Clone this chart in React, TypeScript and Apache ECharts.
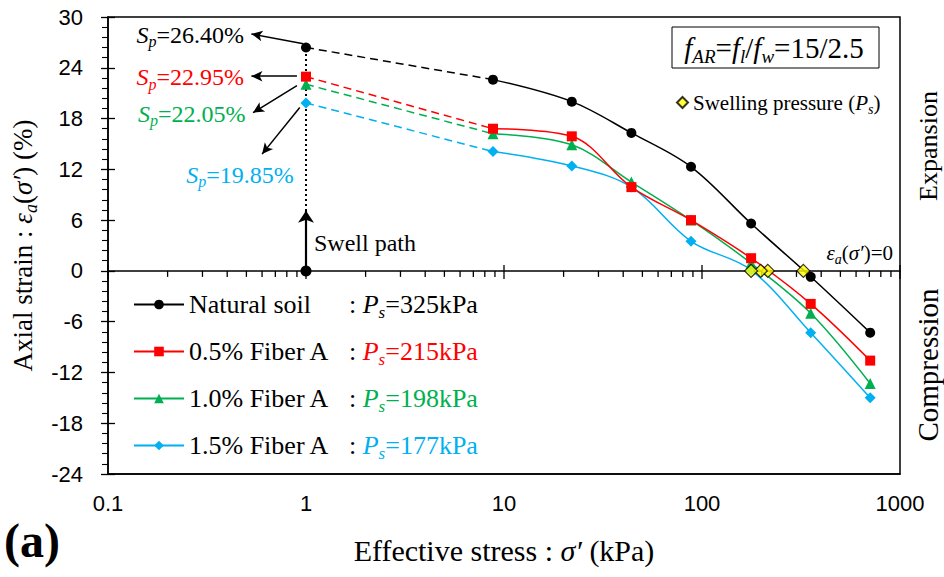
import React, { useEffect, useRef } from 'react';
import * as echarts from 'echarts';

// ---- data ----
const stressLoads = [8.8, 22, 44, 88, 177, 354, 707]; // kPa
const naturalSoil = [22.6, 20.0, 16.3, 12.3, 5.6, -0.7, -7.3];
const fiber05 = [16.8, 15.9, 9.9, 6.0, 1.5, -3.9, -10.6];
const fiber10 = [16.2, 14.9, 10.5, 6.0, 0.9, -5.0, -13.3];
const fiber15 = [14.1, 12.4, 9.9, 3.5, 0.1, -7.3, -15.0];
const seatingStress = 1; // kPa
const swellPotential = [26.4, 22.95, 22.05, 19.85]; // Sp (%)
const swellingPressure = [325, 215, 198, 177]; // Ps (kPa)
const seriesNames = ['Natural soil', '0.5% Fiber A', '1.0% Fiber A', '1.5% Fiber A'];
const seriesColors = ['#000000', '#FF0000', '#00B050', '#00B0F0'];
const seriesSymbols = ['circle', 'rect', 'triangle', 'diamond'];
const seriesSymbolSizes = [10, 10, 11, 11];
const strainSeries = [naturalSoil, fiber05, fiber10, fiber15];
const spArrowFrom = [[0.97, 26.85], [0.9, 23.0], [0.9, 21.9], [0.93, 19.3]];
const spArrowTo = [[0.53, 28.0], [0.53, 23.0], [0.54, 18.7], [0.6, 13.8]];
const swellPathTop = 7.1;
const xMajorTicks = [0.1, 1, 10, 100, 1000];
const xMinorMantissas = [2, 3, 4, 5, 6, 7, 8, 9];

const SERIF = "'Liberation Serif', 'Times New Roman', serif";
const SANS = "'Liberation Sans Narrow', 'Arial Narrow', 'Liberation Sans', Arial, sans-serif";

function makeRich(size: number, extra: Record<string, any> = {}) {
  const lh = Math.round(size * 1.15);
  const pad = Math.round(size * 0.6);
  const sub = Math.round(size * 0.65);
  return {
    tx: { fontFamily: SERIF, fontSize: size, lineHeight: lh, fontStyle: 'normal', ...extra },
    it: { fontFamily: SERIF, fontSize: size, lineHeight: lh, fontStyle: 'italic', ...extra },
    sb: { fontFamily: SERIF, fontSize: sub, lineHeight: lh - pad, padding: [pad, 0, 0, 0], fontStyle: 'italic', ...extra },
  };
}

export default function App() {
  const ref = useRef<HTMLDivElement>(null);
  useEffect(() => {
    if (!ref.current) return;
    const chart = echarts.init(ref.current, null, { renderer: 'svg' });

    const tickData: number[][] = [];
    xMajorTicks.forEach((v) => tickData.push([v, 0, 1]));
    for (let k = 0; k < xMajorTicks.length - 1; k++) {
      xMinorMantissas.forEach((m) => tickData.push([+(m * xMajorTicks[k]).toPrecision(3), 0, 0]));
    }

    const keys = ['k', 'r', 'g', 'b'];
    const legendRich: Record<string, any> = {
      nm: { fontFamily: SERIF, fontSize: 26, lineHeight: 30, width: 160, color: '#000' },
      cl: { fontFamily: SERIF, fontSize: 26, lineHeight: 30, color: '#000' },
    };
    keys.forEach((k, i) => {
      const r = makeRich(26, { color: seriesColors[i] });
      legendRich['P' + k] = r.it;
      legendRich['s' + k] = r.sb;
      legendRich['v' + k] = r.tx;
    });

    const series: any[] = [];
    strainSeries.forEach((arr, i) => {
      series.push({
        name: seriesNames[i],
        type: 'line',
        data: stressLoads.map((x, j) => [x, arr[j]]),
        smooth: 0.35,
        symbol: seriesSymbols[i],
        symbolSize: seriesSymbolSizes[i],
        showAllSymbol: true,
        color: seriesColors[i],
        itemStyle: { color: seriesColors[i] },
        lineStyle: { color: seriesColors[i], width: 1.5 },
        z: 7 - i,
      });
      series.push({
        name: seriesNames[i] + ' swell',
        type: 'line',
        data: [
          { value: [seatingStress, swellPotential[i]], symbol: seriesSymbols[i], symbolSize: seriesSymbolSizes[i] },
          { value: [stressLoads[0], arr[0]], symbol: 'none' },
        ],
        color: seriesColors[i],
        itemStyle: { color: seriesColors[i] },
        lineStyle: { color: seriesColors[i], width: 1.5, type: [8, 5] },
        z: 7 - i,
      });
    });

    series.push({
      name: 'swell path',
      type: 'line',
      data: [[seatingStress, 0], [seatingStress, swellPotential[0]]],
      symbol: 'none',
      lineStyle: { color: '#000', width: 2, type: [2, 3] },
      z: 2,
      markLine: {
        silent: true,
        symbol: ['none', 'arrow'],
        symbolSize: [8, 11],
        label: { show: false },
        lineStyle: { color: '#000', width: 1.5, type: 'solid' },
        data: [
          ...spArrowFrom.map((f, i) => [{ coord: f }, { coord: spArrowTo[i] }]),
          [
            { coord: [seatingStress, 0], symbol: 'circle', symbolSize: 11, lineStyle: { width: 2.2, color: '#000', type: 'solid' } },
            { coord: [seatingStress, swellPathTop], symbol: 'arrow', symbolSize: 12, lineStyle: { width: 2.2, color: '#000', type: 'solid' } },
          ],
        ],
      },
      markPoint: {
        silent: true,
        symbol: 'circle',
        symbolSize: 1,
        itemStyle: { color: 'rgba(0,0,0,0)' },
        data: swellPotential.map((v, i) => ({
          coord: spArrowTo[i],
          label: {
            show: true,
            color: seriesColors[i],
            fontFamily: SERIF,
            fontSize: 24,
            position: i === 3 ? 'bottom' : 'left',
            distance: i === 3 ? 4 : 7,
            offset: i === 3 ? [-22, 2] : [0, 1],
            formatter: `{it|S}{sb|p}{tx|=${v.toFixed(2)}%}`,
            rich: makeRich(24, { color: seriesColors[i] }),
          },
        })),
      },
    });

    series.push({
      name: 'Swelling pressure',
      type: 'scatter',
      data: swellingPressure.map((p) => [p, 0]),
      symbol: 'diamond',
      symbolSize: 13,
      itemStyle: { color: '#FFFF00', borderColor: '#000', borderWidth: 1.2 },
      z: 20,
    });

    series.push({
      name: 'x ticks',
      type: 'custom',
      data: tickData,
      z: 1,
      silent: true,
      renderItem: (params: any, api: any) => {
        const p = api.coord([api.value(0), 0]);
        const major = api.value(2) === 1;
        return {
          type: 'line',
          shape: { x1: p[0], y1: major ? p[1] - 6 : p[1], x2: p[0], y2: p[1] + (major ? 8 : 6) },
          style: { stroke: '#000', lineWidth: 1.3 },
        };
      },
    });

    chart.setOption({
      animation: false,
      backgroundColor: '#fff',
      grid: { left: 108, right: 44, top: 17, bottom: 103, show: true, borderColor: '#000', borderWidth: 1.5, outerBoundsMode: 'none' },
      xAxis: [
        {
          type: 'log', logBase: 10, min: 0.1, max: 1000, position: 'bottom',
          axisLine: { show: true, onZero: false, lineStyle: { color: '#000', width: 1.5 } },
          axisTick: { show: false },
          splitLine: { show: false },
          axisLabel: { color: '#000', fontFamily: SANS, fontSize: 22, margin: 18, formatter: (v: number) => String(v) },
          name: '{tx|Effective stress : }{it|σ′}{tx| (kPa)}',
          nameLocation: 'middle', nameGap: 59,
          nameTextStyle: { color: '#000', fontFamily: SERIF, fontSize: 30, rich: makeRich(30) },
        },
        {
          type: 'log', logBase: 10, min: 0.1, max: 1000, position: 'bottom',
          axisLine: { show: true, onZero: true, onZeroAxisIndex: 0, lineStyle: { color: '#000', width: 1.5 } },
          axisTick: { show: false }, axisLabel: { show: false }, splitLine: { show: false },
        },
      ],
      yAxis: [
        {
          type: 'value', min: -24, max: 30, interval: 6, position: 'left',
          axisLine: { show: true, lineStyle: { color: '#000', width: 1.5 } },
          axisTick: { show: true, length: 7, lineStyle: { color: '#000', width: 1.3 } },
          minorTick: { show: true, splitNumber: 5, length: 6, lineStyle: { color: '#000', width: 1.1 } },
          splitLine: { show: false },
          axisLabel: { color: '#000', fontFamily: SANS, fontSize: 22, margin: 25 },
          name: '{tx|Axial strain : }{it|ε}{sb|a}{tx|(}{it|σ′}{tx|) (%)}',
          nameLocation: 'middle', nameGap: 66,
          nameTextStyle: { color: '#000', fontFamily: SERIF, fontSize: 27, rich: makeRich(27) },
        },
        {
          type: 'value', min: -24, max: 30, interval: 6, position: 'left',
          axisLine: { show: false },
          axisTick: { show: true, inside: true, length: 7, lineStyle: { color: '#000', width: 1.3 } },
          axisLabel: { show: false }, splitLine: { show: false },
        },
      ],
      legend: [
        {
          data: seriesNames,
          orient: 'vertical', left: 133, top: 288, padding: 0, itemGap: 14,
          itemWidth: 50, itemHeight: 12, selectedMode: false,
          formatter: (name: string) => {
            const i = seriesNames.indexOf(name);
            const k = keys[i];
            return `{nm|${name}}{cl|: }{P${k}|P}{s${k}|s}{v${k}|=${swellingPressure[i]}kPa}`;
          },
          textStyle: { color: '#000', fontFamily: SERIF, fontSize: 26, rich: legendRich },
        },
        {
          data: ['Swelling pressure'],
          left: 676, top: 89, padding: 0, itemWidth: 11, itemHeight: 11, selectedMode: false,
          formatter: () => '{tx|Swelling pressure (}{it|P}{sb|s}{tx|)}',
          textStyle: { color: '#000', fontFamily: SERIF, fontSize: 21, rich: makeRich(21) },
        },
      ],
      graphic: [
        { type: 'rect', shape: { x: 672, y: 27, width: 207, height: 41 }, style: { fill: '#fff', stroke: '#000', lineWidth: 1 }, z: 50 },
        {
          type: 'text', x: 774, y: 47.5, z: 51,
          style: { text: '{it|f}{sb|AR}{tx|=}{it|f}{sb|l}{tx|/}{it|f}{sb|w}{tx|=15/2.5}', rich: makeRich(29), fontFamily: SERIF, fontSize: 29, fill: '#000', align: 'center', verticalAlign: 'middle' },
        },
        {
          type: 'text', x: 314, y: 243, z: 50,
          style: { text: 'Swell path', fontFamily: SERIF, fontSize: 24, fill: '#000', align: 'left', verticalAlign: 'middle' },
        },
        {
          type: 'text', x: 893, y: 253, z: 50,
          style: { text: '{it|ε}{sb|a}{tx|(}{it|σ′}{tx|)=0}', rich: makeRich(21), fontFamily: SERIF, fontSize: 21, fill: '#000', align: 'right', verticalAlign: 'middle' },
        },
        {
          type: 'text', x: 928, y: 146, rotation: Math.PI / 2, z: 50,
          style: { text: 'Expansion', fontFamily: SERIF, fontSize: 26, fill: '#000', align: 'center', verticalAlign: 'middle' },
        },
        {
          type: 'text', x: 928, y: 365, rotation: Math.PI / 2, z: 50,
          style: { text: 'Compression', fontFamily: SERIF, fontSize: 29, fill: '#000', align: 'center', verticalAlign: 'middle' },
        },
        {
          type: 'text', x: 4, y: 540, z: 50,
          style: { text: '(a)', fontFamily: SERIF, fontSize: 48, fontWeight: 'bold', fill: '#000', align: 'left', verticalAlign: 'middle' },
        },
      ],
      series,
    });
    return () => chart.dispose();
  }, []);
  return <div ref={ref} style={{ position: 'absolute', left: 0, top: 0, width: 944, height: 577 }} />;
}
